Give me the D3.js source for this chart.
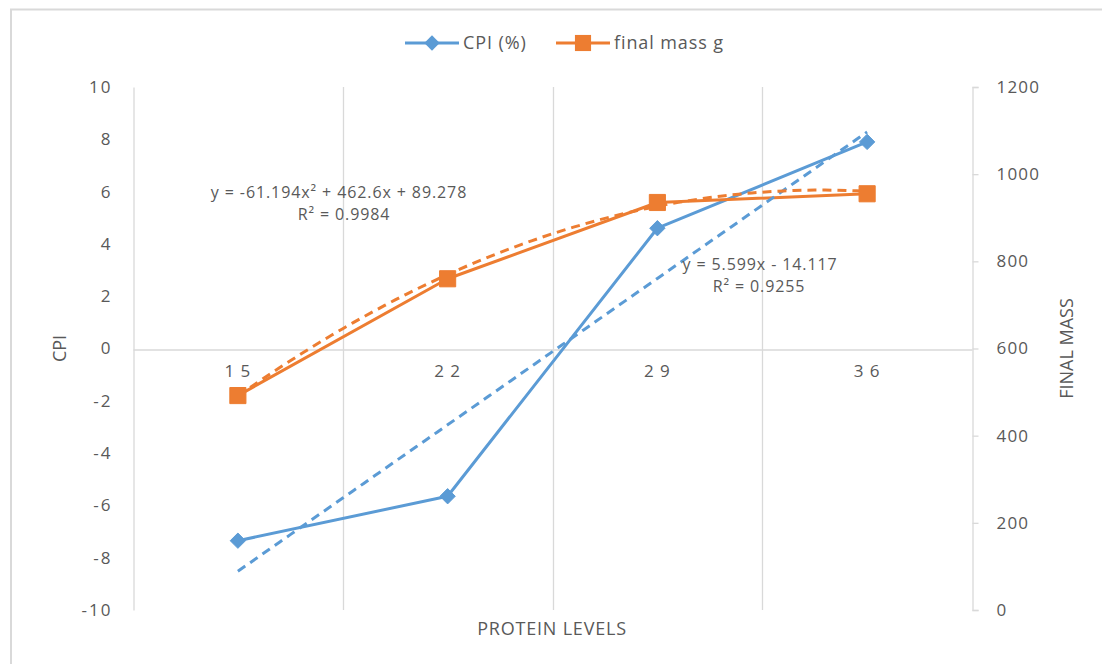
<!DOCTYPE html>
<html>
<head>
<meta charset="utf-8">
<script src="https://cdn.jsdelivr.net/npm/d3@7"></script>
<style>
body { margin: 0; background: white; }
svg text { font-family: "Open Sans", "Liberation Sans", sans-serif; fill: #595959; }
</style>
</head>
<body>
<div id="chart"></div>
<script>

let protein_levels = ['15', '22', '29', '36']
let cpi_values = [-7.35, -5.65, 4.6, 7.9]
let mass_values = [492, 760, 935, 955]

let cpi_ticks = [-10, -8, -6, -4, -2, 0, 2, 4, 6, 8, 10]
let mass_ticks = [0, 200, 400, 600, 800, 1000, 1200]

// trendline coefficients as printed on the chart (x = 1..4)
let cpi_trend = [5.599, -14.117]
let mass_trend = [-61.194, 462.6, 89.278]

let legend_items = [
  {name: 'CPI (%)', color: '#5B9BD5', marker: 'diamond'},
  {name: 'final mass g', color: '#ED7D31', marker: 'square'}
]

let width = 1102, height = 664
let plot_left = 133, plot_right = 972, plot_top = 87, plot_bottom = 610

let svg = d3.select('#chart')
.append('svg')
.attr('width', width)
.attr('height', height)

// chart border (only top and left are visible in the picture)
svg.append('path')
.attr('d', `M11,${height} L11,9.5 L${width},9.5`)
.attr('fill', 'none')
.attr('stroke', '#d9d9d9')
.attr('stroke-width', 2)

let x_band = d3.scaleBand()
.domain(protein_levels)
.range([plot_left, plot_right])

let x_pos = d => x_band(d) + x_band.bandwidth() / 2

let x_trend = d3.scaleLinear()
.domain([1, 4])
.range([x_pos(protein_levels[0]), x_pos(protein_levels[3])])

let y_cpi = d3.scaleLinear()
.domain([-10, 10])
.range([plot_bottom, plot_top])

let y_mass = d3.scaleLinear()
.domain([0, 1200])
.range([plot_bottom, plot_top])

let plain = d => String(d)

// vertical gridlines between categories
svg.append('g')
.selectAll('line')
.data(protein_levels.slice(1))
.join('line')
.attr('x1', d => Math.round(x_band(d)) + 0.5)
.attr('x2', d => Math.round(x_band(d)) + 0.5)
.attr('y1', plot_top)
.attr('y2', plot_bottom)
.attr('stroke', '#d9d9d9')
.attr('stroke-width', 1.3)

// left axis
let axis_left = svg.append('g')
.attr('transform', `translate(${plot_left + 0.5},0)`)
.call(d3.axisLeft(y_cpi).tickValues(cpi_ticks).tickFormat(plain).tickSize(0).tickPadding(21))

axis_left.select('.domain').attr('stroke', '#d9d9d9').attr('stroke-width', 1.3)
axis_left.selectAll('text')
.style('font-size', '17px')
.style('letter-spacing', '2px')
.attr('fill', '#595959')

// right axis
let axis_right = svg.append('g')
.attr('transform', `translate(${plot_right + 0.5},0)`)
.call(d3.axisRight(y_mass).tickValues(mass_ticks).tickFormat(plain).tickSizeInner(6).tickSizeOuter(6).tickPadding(18))

axis_right.select('.domain').attr('stroke', '#d9d9d9').attr('stroke-width', 1.3)
axis_right.selectAll('line').attr('stroke', '#d9d9d9').attr('stroke-width', 1.3)
axis_right.selectAll('text')
.style('font-size', '17px')
.style('letter-spacing', '1.2px')
.attr('fill', '#595959')

// category axis at CPI = 0
let axis_cat = svg.append('g')
.attr('transform', `translate(0,${Math.round(y_cpi(0)) + 0.5})`)
.call(d3.axisBottom(x_band).tickSize(0).tickPadding(15))

axis_cat.select('.domain').attr('stroke', '#d9d9d9').attr('stroke-width', 1.3)
axis_cat.selectAll('text')
.text(d => d.split('').join(' '))
.style('font-size', '17px')
.style('letter-spacing', '1px')
.attr('fill', '#595959')

// axis titles
svg.append('text')
.attr('transform', `translate(66,${y_cpi(0)}) rotate(-90)`)
.attr('text-anchor', 'middle')
.style('font-size', '18px')
.text('CPI')

svg.append('text')
.attr('transform', `translate(1073,${y_cpi(0)}) rotate(-90)`)
.attr('text-anchor', 'middle')
.style('font-size', '18px')
.text('FINAL MASS')

svg.append('text')
.attr('x', 552)
.attr('y', 635)
.attr('text-anchor', 'middle')
.style('font-size', '18px')
.style('letter-spacing', '0.8px')
.text('PROTEIN LEVELS')

// trendlines
let trend_steps = d3.range(1, 4.0001, 0.05)

let cpi_trend_line = d3.line()
.x(t => x_trend(t))
.y(t => y_cpi(cpi_trend[0] * t + cpi_trend[1]))

let mass_trend_line = d3.line()
.x(t => x_trend(t))
.y(t => y_mass(mass_trend[0] * t * t + mass_trend[1] * t + mass_trend[2]))

// series lines
let cpi_line = d3.line()
.x((d, i) => x_pos(protein_levels[i]))
.y(d => y_cpi(d))

let mass_line = d3.line()
.x((d, i) => x_pos(protein_levels[i]))
.y(d => y_mass(d))

svg.append('path')
.datum(cpi_values)
.attr('d', cpi_line)
.attr('fill', 'none')
.attr('stroke', '#5B9BD5')
.attr('stroke-width', 3)
.attr('stroke-linejoin', 'round')

svg.append('path')
.datum(mass_values)
.attr('d', mass_line)
.attr('fill', 'none')
.attr('stroke', '#ED7D31')
.attr('stroke-width', 3)
.attr('stroke-linejoin', 'round')

svg.append('path')
.datum(trend_steps)
.attr('d', cpi_trend_line)
.attr('fill', 'none')
.attr('stroke', '#5B9BD5')
.attr('stroke-width', 3)
.attr('stroke-dasharray', '9,6')

svg.append('path')
.datum(trend_steps)
.attr('d', mass_trend_line)
.attr('fill', 'none')
.attr('stroke', '#ED7D31')
.attr('stroke-width', 3)
.attr('stroke-dasharray', '9,6')

// markers
let diamond = d3.symbol().type(d3.symbolDiamond2).size(150)
let square = d3.symbol().type(d3.symbolSquare).size(260)

svg.append('g')
.selectAll('path')
.data(cpi_values)
.join('path')
.attr('transform', (d, i) => `translate(${x_pos(protein_levels[i])},${y_cpi(d)})`)
.attr('d', diamond)
.attr('fill', '#5B9BD5')
.attr('stroke', '#5B9BD5')
.attr('stroke-width', 1)

svg.append('g')
.selectAll('path')
.data(mass_values)
.join('path')
.attr('transform', (d, i) => `translate(${x_pos(protein_levels[i])},${y_mass(d)})`)
.attr('d', square)
.attr('fill', '#ED7D31')
.attr('stroke', '#ED7D31')
.attr('stroke-width', 1)

// trendline equations
let equations = [
  {text: 'y = -61.194x² + 462.6x + 89.278', x: 339, y: 198},
  {text: 'R² = 0.9984', x: 344, y: 220},
  {text: 'y = 5.599x - 14.117', x: 760, y: 270},
  {text: 'R² = 0.9255', x: 759, y: 292}
]

svg.append('g')
.selectAll('text')
.data(equations)
.join('text')
.attr('x', d => d.x)
.attr('y', d => d.y)
.attr('text-anchor', 'middle')
.style('font-size', '16px')
.style('letter-spacing', '0.9px')
.text(d => d.text)

// legend
let legend_x = [405, 556]
let legend = svg.append('g')
.selectAll('g')
.data(legend_items)
.join('g')
.attr('transform', (d, i) => `translate(${legend_x[i]},43)`)

legend.append('line')
.attr('x1', 0)
.attr('x2', 54)
.attr('stroke', d => d.color)
.attr('stroke-width', 3)

legend.append('path')
.attr('transform', 'translate(27,0)')
.attr('d', d => d.marker == 'diamond' ? diamond() : square())
.attr('fill', d => d.color)

legend.append('text')
.attr('x', 58)
.attr('y', 6)
.style('font-size', '18px')
.style('letter-spacing', '0.9px')
.text(d => d.name)

</script>
</body>
</html>
